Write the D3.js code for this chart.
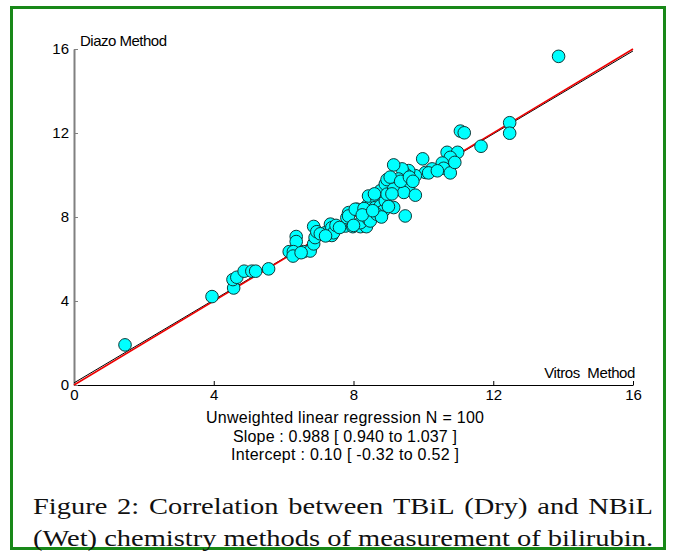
<!DOCTYPE html>
<html>
<head>
<meta charset="utf-8">
<script src="https://cdn.jsdelivr.net/npm/d3@7"></script>
<style>
  body { margin: 0; background: #ffffff; }
  svg { display: block; }
</style>
</head>
<body>
<script>
// data
var vitros = [1.46, 3.95, 4.57, 4.55, 4.66, 4.87, 5.09, 5.2, 5.57, 6.36,
              6.36, 6.16, 6.28, 6.27, 6.57, 6.76, 6.86, 6.9, 6.86, 6.95,
              7.19, 7.34, 7.38, 7.38, 7.43, 7.77, 7.98, 8.2, 8.37, 7.86,
              7.81, 8.1, 8.2, 8.43, 8.48, 8.39, 8.53, 8.43, 8.67, 8.62,
              8.77, 8.77, 8.86, 8.91, 8.77, 8.91, 8.96, 8.48, 11.06, 11.17,
              9.98, 10.68, 10.98, 10.77, 10.54, 10.58, 10.77, 10.25, 10.06, 10.15,
              9.77, 9.58, 9.48, 9.39, 9.15, 9.29, 8.96, 9.24, 9.58, 9.15,
              9.44, 9.77, 9.15, 9.48, 8.67, 12.47, 12.47, 11.65, 13.87, 7.86,
              8.05, 9.05, 9.35, 8.0, 6.5, 7.05, 7.5, 8.3, 8.6, 9.0,
              8.8, 9.6, 10.4, 7.6, 8.25, 9.1, 8.55, 7.2, 9.7, 10.9];
var diazo  = [1.91, 4.21, 4.62, 5.02, 5.13, 5.42, 5.42, 5.42, 5.53, 7.07,
              6.83, 6.35, 6.35, 6.14, 6.35, 6.38, 6.72, 7.02, 7.55, 7.3,
              7.25, 7.66, 7.49, 7.12, 7.25, 7.57, 7.54, 7.54, 7.54, 8.21,
              7.97, 8.37, 7.73, 7.89, 8.21, 8.53, 8.69, 9.0, 8.85, 8.45,
              8.53, 8.21, 8.29, 8.77, 9.25, 9.57, 9.09, 7.81, 12.09, 12.01,
              10.77, 11.08, 11.08, 10.84, 10.57, 10.32, 10.1, 10.29, 10.12, 10.1,
              9.97, 10.21, 10.05, 10.29, 10.48, 9.81, 9.78, 9.49, 9.46, 9.33,
              9.17, 9.04, 8.45, 8.05, 8.13, 12.49, 11.99, 11.37, 15.65, 8.05,
              8.37, 9.9, 9.7, 7.6, 6.3, 7.2, 7.6, 8.4, 9.1, 8.5,
              8.0, 9.9, 10.2, 7.5, 8.1, 9.1, 8.3, 7.1, 9.7, 10.6];

var xTicks = [0, 4, 8, 12, 16];
var yTicks = [0, 4, 8, 12, 16];
var slope = 0.988;
var intercept = 0.10;

var statLines = [
    "Unweighted linear regression N = 100",
    "Slope : 0.988 [ 0.940 to 1.037 ]",
    "Intercept : 0.10 [ -0.32 to 0.52 ]"
];
var captionLines = [
    "Figure 2: Correlation between TBiL (Dry) and NBiL",
    "(Wet) chemistry methods of measurement of bilirubin."
];

/**
 * Default parameter
 */
var W = 676;
var H = 554;
var fontFamily = "'Liberation Sans', Arial, sans-serif";
var captionFont = "'Liberation Serif', 'Times New Roman', serif";
var fontSize = 15;
var dotFill = "#00ffff";
var dotStroke = "#103838";
var statWidths = [278, 224, 228]; // measured span of each stats line

var svg = d3.select("body").append("svg")
    .attr("width", W)
    .attr("height", H)
    .style("background-color", "#ffffff");

// green frame
svg.append("rect")
    .attr("x", 11.5).attr("y", 7.5)
    .attr("width", 653).attr("height", 541)
    .attr("fill", "none")
    .attr("stroke", "#188818")
    .attr("stroke-width", 3);

var x = d3.scaleLinear().domain([0, 16]).range([74, 633]);
var y = d3.scaleLinear().domain([0, 16]).range([385, 49]);

/**
 * axes, ticks point inward
 */
var xAxis = svg.append("g")
    .attr("transform", "translate(0," + y(0) + ")")
    .call(d3.axisBottom(x).tickValues(xTicks).tickSize(-4).tickSizeOuter(0).tickPadding(4));
xAxis.select(".domain").attr("stroke", "#000").attr("stroke-width", 1.2);
xAxis.selectAll("text").attr("font-family", fontFamily).attr("font-size", fontSize).attr("fill", "#000");

var yAxis = svg.append("g")
    .attr("transform", "translate(" + x(0) + ",0)")
    .call(d3.axisLeft(y).tickValues(yTicks).tickSize(-4).tickSizeOuter(0).tickPadding(5));
yAxis.select(".domain").attr("stroke", "#808080").attr("stroke-width", 2);
yAxis.selectAll(".tick line").attr("stroke", "#808080");
yAxis.selectAll("text").attr("font-family", fontFamily).attr("font-size", fontSize).attr("fill", "#000");

svg.append("text")
    .attr("x", x(0) + 6).attr("y", y(16) - 3)
    .attr("font-family", fontFamily).attr("font-size", fontSize)
    .attr("letter-spacing", -0.5)
    .text("Diazo Method");

svg.append("text")
    .attr("x", x(16) + 2).attr("y", y(0) - 7)
    .attr("text-anchor", "end")
    .attr("font-family", fontFamily).attr("font-size", fontSize)
    .attr("letter-spacing", -0.4)
    .attr("xml:space", "preserve")
    .text("Vitros  Method");

/**
 * regression line (black) and identity line (red)
 */
var line = d3.line().x(function (d) { return x(d[0]); }).y(function (d) { return y(d[1]); });
svg.append("path")
    .attr("d", line([[0, intercept], [16, intercept + slope * 16]]))
    .attr("stroke", "#000").attr("stroke-width", 1).attr("fill", "none");
svg.append("path")
    .attr("d", line([[0, 0], [16, 16]]))
    .attr("stroke", "#ee0000").attr("stroke-width", 1.6).attr("fill", "none");

// points
svg.append("g").selectAll("circle")
    .data(d3.range(vitros.length))
    .enter()
    .append("circle")
    .attr("cx", function (i) { return x(vitros[i]); })
    .attr("cy", function (i) { return y(diazo[i]); })
    .attr("r", 6.3)
    .attr("fill", dotFill)
    .attr("stroke", dotStroke)
    .attr("stroke-width", 1);

// regression stats under the x axis
svg.append("g").selectAll("text")
    .data(statLines)
    .enter()
    .append("text")
    .attr("x", 345)
    .attr("y", function (d, i) { return 423 + i * 18.5; })
    .attr("text-anchor", "middle")
    .attr("font-family", fontFamily)
    .attr("font-size", 16)
    .attr("textLength", function (d, i) { return statWidths[i]; })
    .attr("lengthAdjust", "spacing")
    .text(function (d) { return d; });

/**
 * caption, justified between left and right margin
 * Times is narrower than the original face, so the glyphs are widened
 * until the second line fills the width at normal word spacing
 */
var capLeft = 33, capRight = 653, capSize = 24;
var probe = svg.append("text")
    .attr("font-family", captionFont).attr("font-size", capSize)
    .text(captionLines[1]);
var stretch = (capRight - capLeft) / probe.node().getComputedTextLength();
probe.remove();

captionLines.forEach(function (txt, li) {
    var words = txt.split(" ");
    var g = svg.append("g")
        .attr("transform", "translate(" + capLeft + "," + (514 + li * 32) + ") scale(" + stretch + ",1)");
    var nodes = words.map(function (w) {
        return g.append("text")
            .attr("font-family", captionFont)
            .attr("font-size", capSize)
            .attr("fill", "#111")
            .text(w);
    });
    var widths = nodes.map(function (n) { return n.node().getComputedTextLength(); });
    var span = (capRight - capLeft) / stretch;
    var gap = (span - d3.sum(widths)) / (words.length - 1);
    var pos = 0;
    nodes.forEach(function (n, i) {
        n.attr("x", pos);
        pos += widths[i] + gap;
    });
});
</script>
</body>
</html>
